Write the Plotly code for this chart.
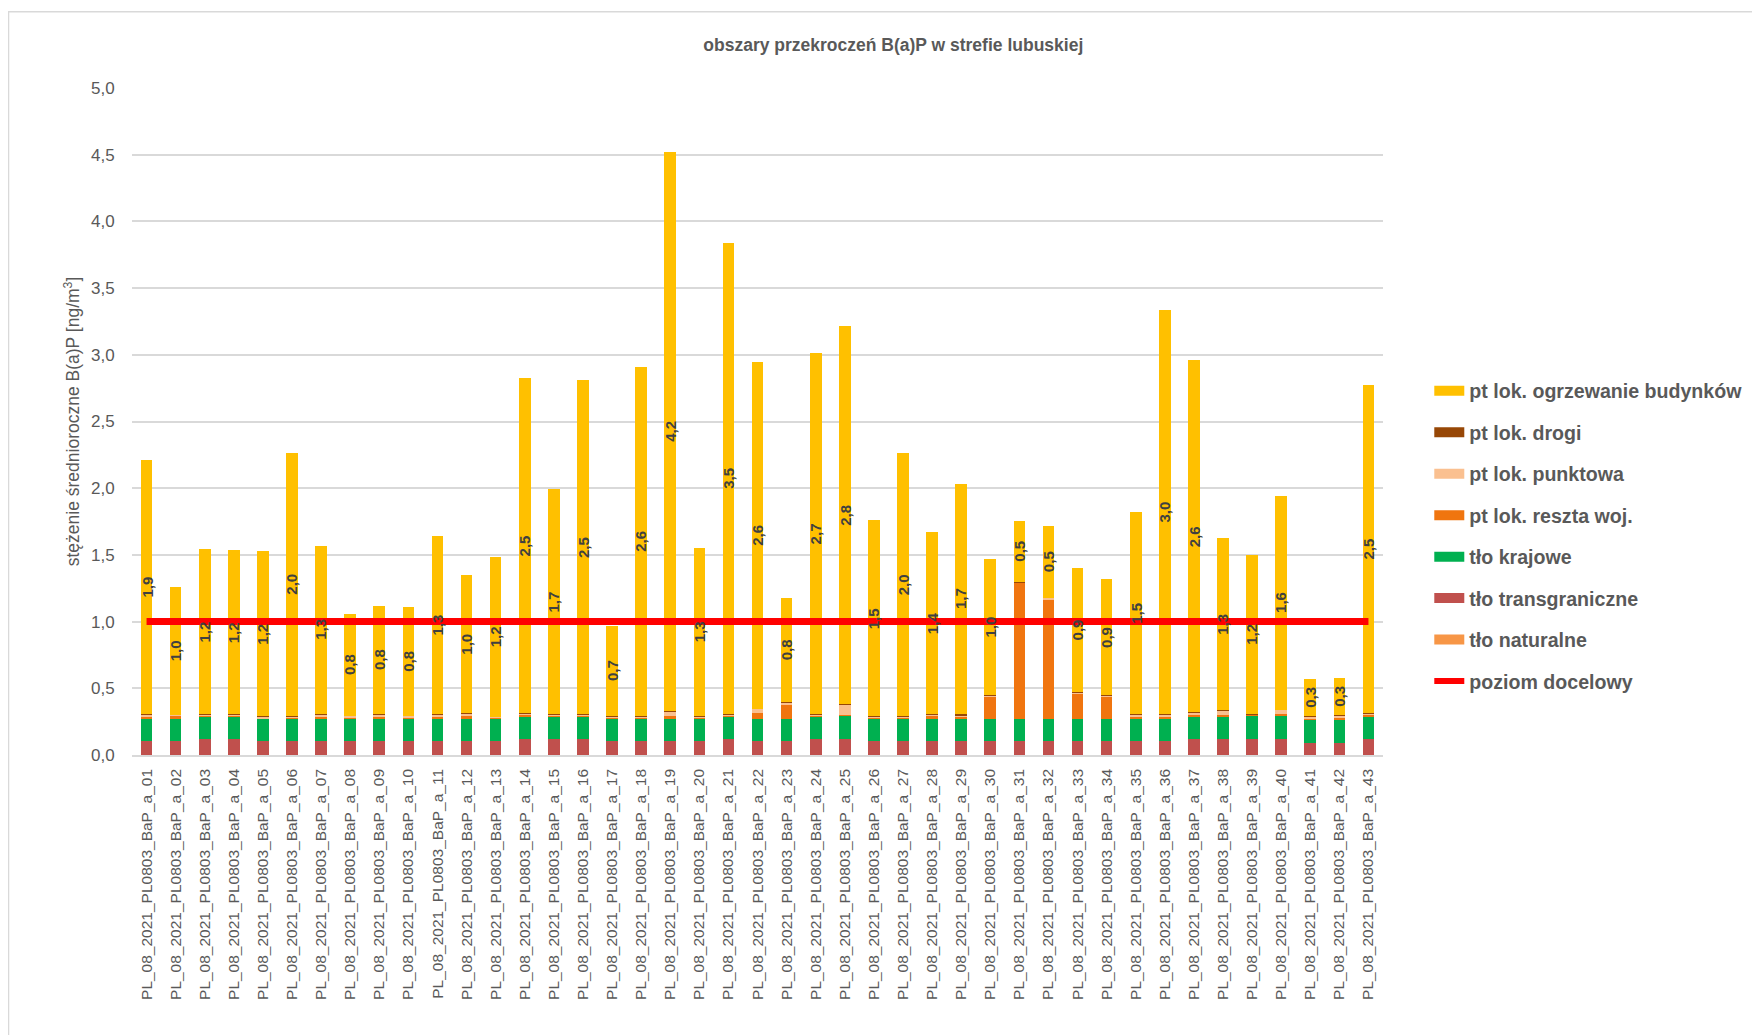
"""Obszary przekroczeń B(a)P w strefie lubuskiej: stacked source contributions per area."""

import plotly.graph_objects as go

FONT = "Liberation Sans Narrow, Arial Narrow, Liberation Sans, Arial, sans-serif"
GREY = "#595959"

areas = [f"PL_08_2021_PL0803_BaP_a_{i:02d}" for i in range(1, 44)]

tlo_naturalne = [0.002] * 43
tlo_transgraniczne = [
    0.10, 0.10, 0.115, 0.115, 0.10, 0.10, 0.10, 0.10, 0.10, 0.10,
    0.10, 0.10, 0.10, 0.115, 0.115, 0.115, 0.10, 0.10, 0.10, 0.10,
    0.115, 0.10, 0.10, 0.115, 0.12, 0.10, 0.10, 0.10, 0.10, 0.10,
    0.10, 0.10, 0.10, 0.10, 0.10, 0.10, 0.115, 0.115, 0.12, 0.12,
    0.09, 0.09, 0.115,
]
tlo_krajowe = [
    0.17, 0.17, 0.17, 0.17, 0.17, 0.17, 0.17, 0.17, 0.17, 0.17,
    0.17, 0.17, 0.17, 0.17, 0.17, 0.17, 0.17, 0.17, 0.17, 0.17,
    0.17, 0.17, 0.17, 0.17, 0.175, 0.17, 0.17, 0.17, 0.17, 0.17,
    0.17, 0.17, 0.17, 0.17, 0.17, 0.17, 0.17, 0.17, 0.175, 0.175,
    0.175, 0.175, 0.17,
]
reszta_woj = [
    0.015, 0.025, 0.012, 0.012, 0.005, 0.008, 0.01, 0.01, 0.01, 0.01,
    0.01, 0.022, 0.008, 0.01, 0.01, 0.01, 0.01, 0.01, 0.02, 0.01,
    0.01, 0.045, 0.105, 0.01, 0.005, 0.01, 0.01, 0.02, 0.02, 0.17,
    1.02, 0.89, 0.19, 0.17, 0.01, 0.015, 0.01, 0.01, 0.005, 0.01,
    0.01, 0.01, 0.01,
]
punktowa = [
    0.015, 0.003, 0.003, 0.003, 0.01, 0.01, 0.025, 0.012, 0.025, 0.012,
    0.025, 0.02, 0.005, 0.015, 0.005, 0.01, 0.005, 0.005, 0.035, 0.008,
    0.01, 0.028, 0.02, 0.005, 0.08, 0.005, 0.01, 0.015, 0.005, 0.003,
    0.003, 0.015, 0.003, 0.003, 0.02, 0.02, 0.02, 0.04, 0.003, 0.032,
    0.012, 0.02, 0.015,
]
drogi = [
    0.002, 0.002, 0.002, 0.002, 0.002, 0.002, 0.002, 0.002, 0.002, 0.002,
    0.002, 0.002, 0.002, 0.002, 0.002, 0.002, 0.002, 0.002, 0.002, 0.002,
    0.002, 0.002, 0.002, 0.002, 0.002, 0.002, 0.002, 0.002, 0.008, 0.002,
    0.002, 0.002, 0.008, 0.002, 0.002, 0.002, 0.002, 0.002, 0.002, 0.002,
    0.002, 0.002, 0.002,
]
ogrzewanie = [
    1.91, 0.96, 1.24, 1.23, 1.24, 1.97, 1.26, 0.76, 0.81, 0.81,
    1.33, 1.03, 1.20, 2.51, 1.69, 2.50, 0.68, 2.62, 4.19, 1.26,
    3.53, 2.60, 0.78, 2.71, 2.83, 1.47, 1.97, 1.36, 1.73, 1.02,
    0.46, 0.54, 0.93, 0.87, 1.52, 3.03, 2.64, 1.29, 1.19, 1.60,
    0.28, 0.28, 2.46,
]
poziom_docelowy = 1.0

# bottom-to-top stacking order, legend shows it reversed
series = [
    ("tło naturalne", tlo_naturalne, "#F79646"),
    ("tło transgraniczne", tlo_transgraniczne, "#C0504D"),
    ("tło krajowe", tlo_krajowe, "#00B050"),
    ("pt lok. reszta woj.", reszta_woj, "#F0750F"),
    ("pt lok. punktowa", punktowa, "#FAC090"),
    ("pt lok. drogi", drogi, "#974706"),
    ("pt lok. ogrzewanie budynków", ogrzewanie, "#FFC000"),
]

fig = go.Figure()
for name, vals, color in series:
    fig.add_trace(
        go.Bar(
            x=areas,
            y=vals,
            name=name,
            marker={"color": color, "line": {"width": 0}},
            showlegend=False,
            hovertemplate=name + ": %{y:.2f}<extra>%{x}</extra>",
        )
    )

fig.add_trace(
    go.Scatter(
        x=areas,
        y=[poziom_docelowy] * len(areas),
        mode="lines",
        line={"color": "#FF0000", "width": 7},
        showlegend=False,
        hoverinfo="skip",
    )
)

# legend proxies (wide swatches like the original)
for name, _, color in reversed(series):
    fig.add_trace(
        go.Scatter(
            x=[None], y=[None], mode="lines", name=name, legendgroup=name,
            line={"color": color, "width": 13},
        )
    )
fig.add_trace(
    go.Scatter(
        x=[None], y=[None], mode="lines", name="poziom docelowy",
        legendgroup="poziom docelowy", line={"color": "#FF0000", "width": 6},
    )
)

# rotated value labels in the middle of the heating segment
for i, area in enumerate(areas):
    base = sum(s[1][i] for s in series[:-1])
    fig.add_annotation(
        x=area,
        y=base + ogrzewanie[i] / 2,
        text=f"{ogrzewanie[i]:.1f}".replace(".", ","),
        textangle=-90,
        showarrow=False,
        font={"family": FONT, "size": 15, "color": "#404040", "weight": "bold"},
    )

fig.add_shape(
    type="rect", xref="paper", yref="paper",
    x0=-0.0987, y0=-0.5, x1=1.5, y1=1.1145,
    line={"color": "#D9D9D9", "width": 1.5}, fillcolor="rgba(0,0,0,0)",
    layer="below",
)

fig.update_layout(
    width=1760,
    height=1035,
    paper_bgcolor="white",
    plot_bgcolor="white",
    barmode="stack",
    bargap=0.6,
    separators=", ",
    font={"family": FONT, "color": GREY},
    title={
        "text": "obszary przekroczeń B(a)P w strefie lubuskiej",
        "x": 0.503, "xanchor": "center", "y": 0.964, "yanchor": "middle",
        "font": {"family": FONT, "size": 17.5, "color": GREY, "weight": "bold"},
    },
    xaxis={
        "type": "category",
        "tickangle": -90,
        "tickfont": {"family": FONT, "size": 15.5, "color": GREY},
        "showline": True,
        "linecolor": "#D9D9D9",
        "linewidth": 1.5,
        "ticks": "outside",
        "ticklen": 6,
        "tickcolor": "rgba(0,0,0,0)",
        "showgrid": False,
        "automargin": False,
    },
    yaxis={
        "range": [0, 5],
        "dtick": 0.5,
        "tickformat": ".1f",
        "showgrid": True,
        "gridcolor": "#D9D9D9",
        "gridwidth": 1.5,
        "zeroline": False,
        "ticks": "outside",
        "ticklen": 13,
        "tickcolor": "rgba(0,0,0,0)",
        "tickfont": {"family": FONT, "size": 17, "color": GREY},
        "automargin": False,
        "title": {
            "text": "stężenie średnioroczne B(a)P [ng/m<sup>3</sup>]",
            "font": {"family": FONT, "size": 17.5, "color": GREY},
            "standoff": 6,
        },
    },
    legend={
        "x": 1.037, "xanchor": "left", "y": 0.575, "yanchor": "top",
        "traceorder": "grouped",
        "tracegroupgap": 13,
        "font": {"family": FONT, "size": 19.6, "color": GREY, "weight": "bold"},
        "itemclick": False,
    },
    # the page body adds an 8 px offset, margins compensate for it
    margin={"l": 123.5, "r": 385, "t": 79.5, "b": 287.5},
    hovermode="closest",
)

fig.write_html("out.html")
